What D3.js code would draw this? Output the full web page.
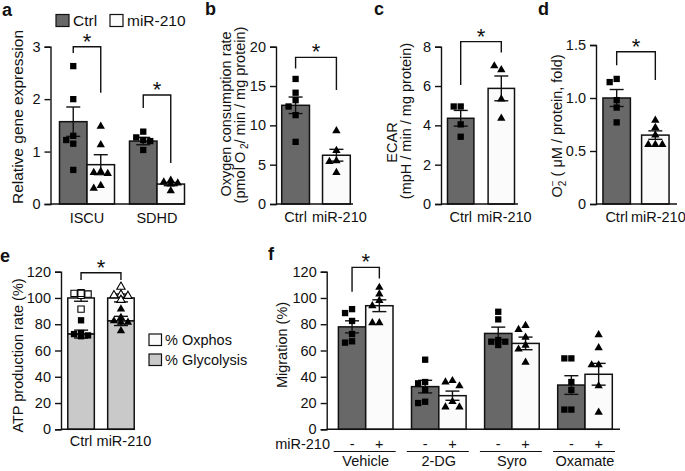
<!DOCTYPE html>
<html><head><meta charset="utf-8">
<script src="https://cdn.jsdelivr.net/npm/d3@7"></script>
<style>
body{margin:0;background:#fff}
svg{display:block}
text{font-family:"Liberation Sans",Arial,sans-serif;fill:#111}
</style>
</head><body><svg id="chart" width="685" height="471"></svg>
<script>
// ================= DATA =================
const groups = ["Ctrl", "miR-210"];

// panel a
const aGenes = ["ISCU", "SDHD"];
const aCtrlMean = [1.57, 1.2];
const aCtrlSem = [0.28, 0.07];
const aMirMean = [0.75, 0.38];
const aMirSem = [0.19, 0.03];
const aCtrlPts = [[2.63, 2.0, 1.3, 1.22, 1.15, 0.65], [1.38, 1.27, 1.22, 1.2, 1.03]];
const aMirPts = [[1.48, 1.13, 0.62, 0.6, 0.58, 0.35, 0.3], [0.45, 0.42, 0.4, 0.38, 0.25]];
const aTicks = [0, 1, 2, 3];
const aSig = [[3.0, 2.88, 2.12], [2.08, 1.83, 0.78]]; // top, left leg end, right leg end

// panel b
const bMean = [12.55, 6.2];
const bSem = [1.05, 0.75];
const bPts = [[15.9, 14.15, 13.2, 12.4, 11.3, 7.9], [9.3, 6.8, 5.5, 5.4, 4.0]];
const bTicks = [0, 5, 10, 15, 20];
const bSig = [18.64, 17.24, 14.49];

// panel c
const cMean = [4.36, 5.88];
const cSem = [0.4, 0.63];
const cPts = [[4.96, 4.96, 4.05, 3.42], [6.82, 7.02, 5.34, 4.36]];
const cTicks = [0, 2, 4, 6, 8];
const cSig = [8.26, 6.05, 7.7];

// panel d
const dMean = [1.0, 0.65];
const dSem = [0.08, 0.04];
const dPts = [[1.18, 1.15, 0.98, 0.91, 0.77], [0.79, 0.72, 0.65, 0.56, 0.56, 0.56]];
const dTicks = [0, 0.5, 1.0, 1.5];
const dSig = [1.437, 1.31, 1.17];

// panel e
const eGlyMean = [72.5, 82.5];
const eGlySem = [3, 3.5];
const eTotMean = [100, 100];
const eTotSem = [2.5, 3];
const eGlyPts = [[83, 73.3, 72.5, 71.5, 71, 71], [91.5, 85, 82.5, 81.5, 81.5, 75]];
const eOxPts = [[104, 103.5, 103, 102, 103.5, 91.5], [108.5, 102.5, 102, 101.5, 98.5]];
const eTicks = [0, 20, 40, 60, 80, 100, 120];
const eSig = [119.2, 113.6, 113.6];
const eLegend = ["% Oxphos", "% Glycolysis"];

// panel f
const fTreat = ["Vehicle", "2-DG", "Syro", "Oxamate"];
const fCtrlMean = [78, 32.5, 73, 33.7];
const fCtrlSem = [4.6, 4.8, 4.8, 7.1];
const fMirMean = [94.1, 25.6, 65.4, 41.9];
const fMirSem = [4.5, 3.5, 4.8, 8.3];
const fCtrlPts = [[91.5, 88.5, 82.5, 72.5, 67, 66], [53, 36, 35, 30, 21, 20], [89.5, 83.7, 68, 66.7, 66.7, 64.2], [54, 54, 36, 30, 15, 15]];
const fMirPts = [[108, 103, 98, 94, 81, 81], [37, 36, 33, 21, 17, 17], [79, 76, 70, 64, 61, 51], [72, 62, 49, 49, 33, 13]];
const fTicks = [0, 20, 40, 60, 80, 100, 120];
const fSig = [123.3, 104.7, 114.9];
const fSigns = ["-", "+"];

// ================= DRAW =================
const svg = d3.select("#chart");
const DARK = "#686868", LIGHT = "#fbfbfb", GLY = "#c9c9c9", INK = "#111";
const FS = 14.5;

function yAxis(x, y, ticks, fmt) {
  const g = svg.append("g").attr("transform", `translate(${x},0)`)
    .call(d3.axisLeft(y).tickValues(ticks).tickFormat(fmt || d3.format("d"))
      .tickSizeOuter(0).tickSize(6).tickPadding(4));
  g.attr("font-size", FS).attr("font-family", null);
  g.selectAll("path,line").attr("stroke", INK).attr("stroke-width", 1.4);
  g.selectAll("text").attr("fill", INK);
  return g;
}
function baseLine(x0, x1, y0) {
  svg.append("line").attr("x1", x0).attr("x2", x1).attr("y1", y0).attr("y2", y0)
    .attr("stroke", INK).attr("stroke-width", 1.4);
}
function bar(x, w, yTop, yBot, fill) {
  svg.append("rect").attr("x", x).attr("y", yTop).attr("width", w).attr("height", yBot - yTop)
    .attr("fill", fill).attr("stroke", INK).attr("stroke-width", 1.5);
}
function errBar(cx, y, m, s, cap) {
  cap = cap || 7;
  const g = svg.append("g").attr("stroke", INK).attr("stroke-width", 1.4);
  g.append("line").attr("x1", cx).attr("x2", cx).attr("y1", y(m - s)).attr("y2", y(m + s));
  [m - s, m + s].forEach(v => g.append("line").attr("x1", cx - cap).attr("x2", cx + cap).attr("y1", y(v)).attr("y2", y(v)));
}
function swarm(vals, y, cx) {
  const placed = [], size = 6.5;
  const offs = [0, -7, 7, -3.5, 3.5, -10, 10, -13, 13];
  return vals.map(v => {
    const py = y(v);
    for (const o of offs) {
      if (placed.every(p => Math.abs(p[0] - (cx + o)) >= size || Math.abs(p[1] - py) >= size)) {
        placed.push([cx + o, py]); return [cx + o, py];
      }
    }
    placed.push([cx, py]); return [cx, py];
  });
}
const sqPath = d3.symbol().type(d3.symbolSquare).size(40)();
const triPath = d3.symbol().type(d3.symbolTriangle).size(30)();
function points(vals, y, cx, shape, hollow) {
  const pos = swarm(vals, y, cx);
  svg.append("g").selectAll("path").data(pos).join("path")
    .attr("d", shape === "sq" ? sqPath : triPath)
    .attr("transform", d => `translate(${d[0]},${d[1]})`)
    .attr("fill", hollow ? "#fff" : "#000")
    .attr("stroke", hollow ? "#000" : "none").attr("stroke-width", 1.1);
}
function sig(x1, x2, y, top, l, r) {
  svg.append("path")
    .attr("d", `M${x1},${y(l)}V${y(top)}H${x2}V${y(r)}`)
    .attr("fill", "none").attr("stroke", INK).attr("stroke-width", 1.4);
  svg.append("text").attr("x", (x1 + x2) / 2).attr("y", y(top) + 2)
    .attr("text-anchor", "middle").attr("font-size", 22).text("*");
}
function letter(t, x, y) {
  svg.append("text").attr("x", x).attr("y", y).attr("font-size", 18).attr("font-weight", "bold").text(t);
}
function yLabel(x, cy, fs) {
  return svg.append("text").attr("transform", `translate(${x},${cy}) rotate(-90)`)
    .attr("text-anchor", "middle").attr("font-size", fs || FS);
}
function xLabel(t, x, y) {
  svg.append("text").attr("x", x).attr("y", y).attr("text-anchor", "middle").attr("font-size", FS).text(t);
}

// ---------- panel a ----------
{
  const y = d3.scaleLinear().domain([0, 3]).range([204, 46.7]);
  const gx = d3.scalePoint().domain(aGenes).range([87, 157]);
  const sub = d3.scaleBand().domain(groups).range([-27.5, 27.5]);
  const w = sub.bandwidth();
  aGenes.forEach((gene, i) => {
    const c0 = gx(gene) + sub("Ctrl"), c1 = gx(gene) + sub("miR-210");
    bar(c0, w, y(aCtrlMean[i]), y(0), DARK);
    bar(c1, w, y(aMirMean[i]), y(0), LIGHT);
    errBar(c0 + w / 2, y, aCtrlMean[i], aCtrlSem[i]);
    errBar(c1 + w / 2, y, aMirMean[i], aMirSem[i]);
    points(aCtrlPts[i], y, c0 + w / 2, "sq");
    points(aMirPts[i], y, c1 + w / 2, "tri");
    sig(c0 + w / 2, c1 + w / 2, y, aSig[i][0], aSig[i][1], aSig[i][2]);
    xLabel(gene, gx(gene), 223);
  });
  yAxis(50.5, y, aTicks);
  baseLine(50.5, 185, y(0));
  yLabel(22.5, 117, 15.5).text("Relative gene expression");
  letter("a", 2, 16);
  // legend
  svg.append("rect").attr("x", 56).attr("y", 14.5).attr("width", 13).attr("height", 12).attr("fill", DARK).attr("stroke", INK).attr("stroke-width", 1.2);
  svg.append("text").attr("x", 73).attr("y", 26).attr("font-size", 15.5).text(groups[0]);
  svg.append("rect").attr("x", 110).attr("y", 14.5).attr("width", 13).attr("height", 12).attr("fill", LIGHT).attr("stroke", INK).attr("stroke-width", 1.2);
  svg.append("text").attr("x", 127).attr("y", 26).attr("font-size", 15.5).text(groups[1]);
}

// generic two-bar panel
function twoBar(opts) {
  const y = d3.scaleLinear().domain([0, opts.max]).range([204, opts.top]);
  const x = d3.scaleBand().domain(groups).range([opts.ax, opts.ax + 80]).paddingInner(opts.pi).paddingOuter(opts.po);
  const w = x.bandwidth();
  const fills = [DARK, LIGHT], shapes = ["sq", "tri"];
  groups.forEach((gname, i) => {
    bar(x(gname), w, y(opts.mean[i]), y(0), fills[i]);
    errBar(x(gname) + w / 2, y, opts.mean[i], opts.sem[i]);
    points(opts.pts[i], y, x(gname) + w / 2, shapes[i]);
    xLabel(gname, x(gname) + w / 2 + (i ? 3 : 0), 222);
  });
  sig(x("Ctrl") + w / 2, x("miR-210") + w / 2, y, opts.sig[0], opts.sig[1], opts.sig[2]);
  yAxis(opts.ax, y, opts.ticks, opts.fmt);
  baseLine(opts.ax, opts.end, y(0));
}

// ---------- panel b ----------
twoBar({ax: 276, end: 353, max: 20, top: 46.7, pi: 0.32, po: 0.14, mean: bMean, sem: bSem, pts: bPts, sig: bSig, ticks: bTicks});
letter("b", 205, 15);
yLabel(231, 114).text("Oxygen consumption rate");
{
  const t = yLabel(245, 115);
  t.append("tspan").text("(pmol O");
  t.append("tspan").attr("font-size", 10).attr("dy", 3).text(" 2");
  t.append("tspan").attr("dy", -3).text("/ min / mg protein)");
}

// ---------- panel c ----------
twoBar({ax: 441, end: 518, max: 8, top: 46.7, pi: 0.35, po: 0.16, mean: cMean, sem: cSem, pts: cPts, sig: cSig, ticks: cTicks});
letter("c", 374, 15);
yLabel(396.5, 142.5).text("ECAR");
yLabel(411, 121).text("(mpH / min / mg protein)");

// ---------- panel d ----------
twoBar({ax: 596, end: 677, max: 1.5, top: 45, pi: 0.29, po: 0.18, mean: dMean, sem: dSem, pts: dPts, sig: dSig, ticks: dTicks,
  fmt: d => d === 0 ? "0" : d3.format(".1f")(d)});
letter("d", 538, 15);
{
  const t = yLabel(562, 126);
  t.append("tspan").text("O");
  t.append("tspan").attr("font-size", 10).attr("dy", 4).text("2");
  t.append("tspan").attr("font-size", 10).attr("dx", -5.6).attr("dy", -10).text("\u2212");
  t.append("tspan").attr("dy", 6).text(" ( \u03bcM / protein, fold)");
}

// ---------- panel e ----------
{
  const y = d3.scaleLinear().domain([0, 120]).range([429.3, 271.7]);
  const x = d3.scaleBand().domain(groups).range([61, 141]).paddingInner(0.335).paddingOuter(0.17);
  const w = x.bandwidth();
  const shapes = ["sq", "tri"];
  groups.forEach((gname, i) => {
    bar(x(gname), w, y(eTotMean[i]), y(eGlyMean[i]), LIGHT);
    bar(x(gname), w, y(eGlyMean[i]), y(0), GLY);
    const cx = x(gname) + w / 2;
    errBar(cx, y, eGlyMean[i], eGlySem[i]);
    errBar(cx, y, eTotMean[i], eTotSem[i]);
    points(eGlyPts[i], y, cx, shapes[i], false);
    points(eOxPts[i], y, cx, shapes[i], true);
    xLabel(gname, cx + (i ? 3 : 0), 446);
  });
  sig(x("Ctrl") + w / 2, x("miR-210") + w / 2, y, eSig[0], eSig[1], eSig[2]);
  yAxis(61, y, eTicks);
  baseLine(61, 135, y(0));
  letter("e", 0, 262);
  yLabel(22.5, 355.5).text("ATP production rate (%)");
  const lf = [LIGHT, GLY];
  eLegend.forEach((t, i) => {
    svg.append("rect").attr("x", 149).attr("y", 334 + i * 20).attr("width", 12.5).attr("height", 11.5)
      .attr("fill", lf[i]).attr("stroke", INK).attr("stroke-width", 1.2);
    svg.append("text").attr("x", 165).attr("y", 344.5 + i * 20).attr("font-size", FS).text(t);
  });
}

// ---------- panel f ----------
{
  const y = d3.scaleLinear().domain([0, 120]).range([429.3, 271.7]);
  const gx = d3.scalePoint().domain(fTreat).range([365.7, 585]);
  const sub = d3.scaleBand().domain(groups).range([-27.3, 27.3]);
  const w = sub.bandwidth();
  fTreat.forEach((tr, i) => {
    const c0 = gx(tr) + sub("Ctrl"), c1 = gx(tr) + sub("miR-210");
    bar(c0, w, y(fCtrlMean[i]), y(0), DARK);
    bar(c1, w, y(fMirMean[i]), y(0), LIGHT);
    errBar(c0 + w / 2, y, fCtrlMean[i], fCtrlSem[i]);
    errBar(c1 + w / 2, y, fMirMean[i], fMirSem[i]);
    points(fCtrlPts[i], y, c0 + w / 2, "sq");
    points(fMirPts[i], y, c1 + w / 2, "tri");
    xLabel(fSigns[0], c0 + w / 2, 449);
    xLabel(fSigns[1], c1 + w / 2, 449);
    svg.append("line").attr("x1", gx(tr) - 32).attr("x2", gx(tr) + 30).attr("y1", 451.5).attr("y2", 451.5)
      .attr("stroke", INK).attr("stroke-width", 1.2);
    xLabel(tr, gx(tr), 466);
  });
  const v0 = gx(fTreat[0]);
  sig(v0 + sub("Ctrl") + w / 2, v0 + sub("miR-210") + w / 2, y, fSig[0], fSig[1], fSig[2]);
  yAxis(326.7, y, fTicks);
  baseLine(326.7, 620, y(0));
  svg.append("text").attr("x", 330).attr("y", 449).attr("text-anchor", "end").attr("font-size", FS).text(groups[1]);
  letter("f", 268, 260);
  yLabel(287, 345).text("Migration (%)");
}
</script>
</body></html>
